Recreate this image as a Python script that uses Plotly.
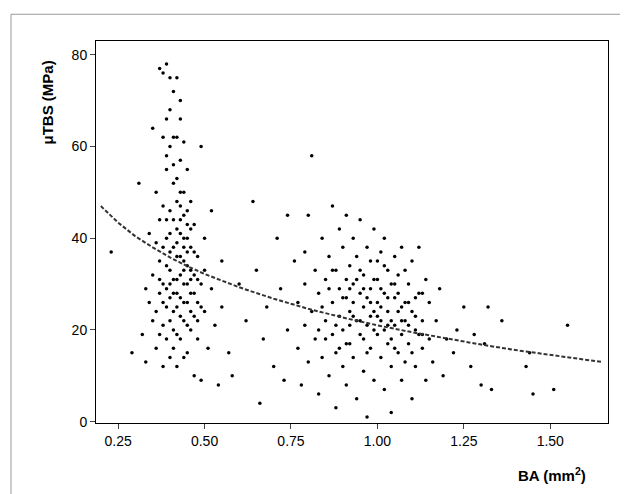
import plotly.graph_objects as go

# scatter points
pts_a = [(0.23,37),(0.29,15),(0.31,52),(0.32,19),(0.33,13),(0.33,29),(0.34,41),(0.35,64),(0.35,22),(0.36,50),
(0.36,16),(0.37,77),(0.37,35),(0.37,44),(0.38,76),(0.38,62),(0.38,30),(0.38,12),(0.39,78),(0.39,40),(0.39,55),
(0.39,25),(0.39,18),(0.40,75),(0.40,60),(0.40,46),(0.40,33),(0.40,22),(0.40,14),(0.41,72),(0.41,52),(0.41,38),
(0.41,28),(0.41,20),(0.42,75),(0.42,62),(0.42,48),(0.42,42),(0.42,31),(0.42,25),(0.42,12),(0.43,66),(0.43,57),
(0.43,44),(0.43,36),(0.43,27),(0.43,18),(0.44,61),(0.44,50),(0.44,40),(0.44,30),(0.44,22),(0.45,55),(0.45,46),
(0.45,34),(0.45,26),(0.45,15),(0.46,48),(0.46,38),(0.46,28),(0.46,20),(0.47,43),(0.47,32),(0.47,23),(0.47,10),
(0.48,36),(0.48,26),(0.48,18),(0.49,60),(0.49,30),(0.49,9),(0.50,40),(0.50,24),(0.51,16),(0.52,29),(0.52,46),
(0.53,21),(0.54,8),(0.55,35),(0.55,25),(0.57,15),(0.58,10),(0.60,30),(0.62,22),(0.64,48),(0.65,33),(0.66,4),
(0.67,18),(0.68,25),(0.70,12),(0.71,40),(0.72,29),(0.73,9),(0.74,45),(0.74,20),
(0.36,39),(0.37,28),(0.38,47),(0.38,21),(0.39,34),(0.39,58),(0.40,27),(0.40,41),(0.40,68),(0.41,44),(0.41,31),
(0.41,16),(0.42,36),(0.42,53),(0.42,19),(0.43,32),(0.43,23),(0.43,50),(0.44,35),(0.44,26),(0.44,45),(0.45,30),
(0.45,40),(0.45,21),(0.46,33),(0.46,24),(0.46,42),(0.47,28),(0.47,37),(0.48,31),(0.48,22),(0.49,25),(0.50,33),
(0.34,26),(0.35,32),(0.36,24),(0.37,19),(0.44,14),(0.41,62),(0.43,70),(0.39,66),
(0.37,31),(0.38,38),(0.39,29),(0.40,37),(0.41,24),(0.42,39),(0.43,41),(0.44,33),(0.45,37),(0.46,31),
(0.38,26),(0.40,30),(0.42,28),(0.44,38),(0.41,56),(0.43,47),(0.39,44),(0.45,43)]
pts_b = [(0.76,35),(0.77,16),(0.77,26),(0.78,8),(0.79,30),(0.79,21),(0.80,45),(0.80,13),(0.81,58),(0.81,24),
(0.82,33),(0.82,18),(0.83,6),(0.83,28),(0.84,40),(0.84,14),(0.85,22),(0.85,31),(0.86,10),(0.86,36),(0.87,47),
(0.87,19),(0.87,26),(0.88,3),(0.88,15),(0.88,33),(0.89,42),(0.89,23),(0.89,29),(0.90,12),(0.90,38),(0.90,20),
(0.91,45),(0.91,27),(0.91,8),(0.92,34),(0.92,17),(0.92,24),(0.93,30),(0.93,14),(0.93,40),(0.94,22),(0.94,5),
(0.94,36),(0.95,28),(0.95,19),(0.95,44),(0.96,11),(0.96,32),(0.96,25),(0.97,1),(0.97,38),(0.97,21),(0.98,29),
(0.98,16),(0.98,35),(0.99,24),(0.99,9),(0.99,42),(1.00,31),(1.00,19),(1.00,26),(1.01,14),(1.01,37),(1.01,22),
(1.02,28),(1.02,7),(1.02,40),(1.03,17),(1.03,33),(1.03,24),(1.04,12),(1.04,30),(1.04,2),(1.05,21),(1.05,36),
(1.05,27),(1.06,15),(1.06,24),(1.06,32),(1.07,9),(1.07,19),(1.07,38),(1.08,26),(1.08,13),(1.08,22),(1.09,30),
(1.09,17),(1.10,5),(1.10,24),(1.10,35),(1.11,20),(1.11,12),(1.12,28),(1.12,38),(1.13,16),(1.13,22),(1.14,9),
(1.14,31),(1.15,18),(1.15,26),(1.16,13),(1.17,22),(1.18,29),(1.19,10),(1.20,18),(1.22,15),(1.23,20),(1.25,25),
(1.27,12),(1.28,19),(1.30,8),(1.31,17),(1.32,25),(1.33,7),(1.36,22),(1.43,12),(1.44,15),(1.45,6),(1.51,7),(1.55,21),
(0.84,25),(0.86,29),(0.88,21),(0.90,27),(0.92,29),(0.93,23),(0.95,33),(0.96,18),(0.97,27),(0.98,23),(0.99,31),
(1.00,23),(1.01,29),(1.02,20),(1.03,27),(1.04,22),(1.05,16),(1.06,28),(1.07,25),(1.08,33),(1.09,21),(1.10,15),
(1.11,27),(1.12,19),(1.13,28),(1.02,34),(0.94,31),(0.91,17),(0.83,20),(0.79,37),
(0.85,18),(0.87,33),(0.89,16),(0.91,31),(0.93,26),(0.95,22),(0.97,15),(0.99,20),(1.01,25),(1.03,21),
(1.05,30),(1.07,22),(1.09,26),(1.11,23),(1.13,19),(0.96,29),(1.00,35),(1.04,18),(0.92,21),(0.98,26)]
pts = pts_a + pts_b
ba = [p[0] for p in pts]
tbs = [p[1] for p in pts]

# fitted curve, read at x positions
fit_x = [0.20, 0.25, 0.30, 0.35, 0.40, 0.45, 0.50, 0.55, 0.60, 0.70, 0.80, 0.90, 1.00, 1.10, 1.20, 1.30, 1.40, 1.50, 1.65]
fit_y = [47.0, 43.4, 40.4, 38.0, 35.8, 33.9, 32.2, 30.7, 29.3, 26.8, 24.6, 22.7, 21.0, 19.5, 18.1, 16.8, 15.6, 14.5, 13.0]

fig = go.Figure()
fig.add_trace(go.Scatter(x=ba, y=tbs, mode="markers",
                         marker=dict(color="black", size=3.5)))
fig.add_trace(go.Scatter(x=fit_x, y=fit_y, mode="lines",
                         line=dict(color="#333", width=2, dash="4px,2px")))

fig.update_layout(
    width=628, height=494, showlegend=False,
    margin=dict(l=88, r=28, t=33, b=79),
    plot_bgcolor="white", paper_bgcolor="white",
    font=dict(family="Liberation Sans, Arial", size=14, color="black"),
    shapes=[dict(type="rect", xref="paper", yref="paper",
                 x0=-0.166, x1=1.04, y0=-0.2, y1=1.07,
                 line=dict(color="#999", width=1))],
    annotations=[
        dict(text="<b>BA (mm<sup>2</sup>)</b>", xref="paper", yref="paper",
             x=0.89, y=-0.135, xanchor="center", yanchor="middle", showarrow=False,
             font=dict(size=15)),
        dict(text="<b>μTBS (MPa)</b>", xref="paper", yref="paper", textangle=-90,
             x=-0.095, y=0.84, xanchor="center", yanchor="middle", showarrow=False,
             font=dict(size=15)),
    ],
)
fig.update_xaxes(range=[0.186, 1.667], tickvals=[0.25, 0.5, 0.75, 1.0, 1.25, 1.5],
                 ticktext=["0.25", "0.50", "0.75", "1.00", "1.25", "1.50"],
                 showgrid=False, zeroline=False, showline=True, linecolor="black",
                 mirror=True, ticks="outside", ticklen=5)
fig.update_yaxes(range=[-0.3, 83], tickvals=[0, 20, 40, 60, 80],
                 showgrid=False, zeroline=False, showline=True, linecolor="black",
                 mirror=True, ticks="outside", ticklen=5)
fig.write_html("out.html")
